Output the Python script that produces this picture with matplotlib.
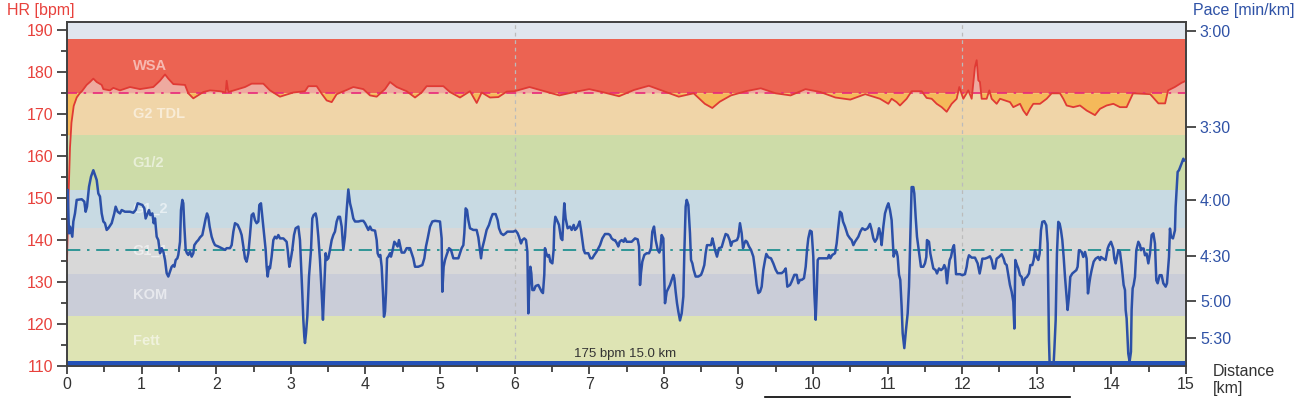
import numpy as np
import matplotlib
matplotlib.use("Agg")
import matplotlib.pyplot as plt
from matplotlib.ticker import MultipleLocator, FixedLocator
from matplotlib.lines import Line2D

plt.rcParams['font.family'] = ['Liberation Sans', 'DejaVu Sans']

# ---- heart-rate zones (bpm) ----
zone_names = ["Fett", "KOM", "G1_1", "G1_2", "G1/2", "G2 TDL", "WSA", ""]
zone_low = [110, 122, 132, 143, 152, 165, 175, 188]
zone_high = [122, 132, 143, 152, 165, 175, 188, 192]
zone_colors = ["#dee4b4", "#cacdd8", "#d8d8d8", "#c8dae3", "#cddca8", "#f0d5a8", "#ec6352", "#e0e6ee"]

threshold_hr = 175
avg_speed = 13.5  # km/h, dash-dot reference line

# ---- heart rate [bpm] over distance [km] ----
hr_km = [0.00, 0.02, 0.04, 0.06, 0.09, 0.13, 0.17, 0.20, 0.263, 0.308, 0.353, 0.398, 0.465, 0.487,
         0.576, 0.621, 0.710, 0.844, 0.978, 1.157, 1.246, 1.314, 1.358, 1.425, 1.582, 1.626, 1.693,
         1.827, 1.917, 2.051, 2.127, 2.140, 2.162, 2.386, 2.475, 2.632, 2.721, 2.855, 3.034, 3.190,
         3.235, 3.347, 3.414, 3.481, 3.548, 3.615, 3.749, 3.838, 3.972, 4.062, 4.151, 4.263, 4.330,
         4.419, 4.553, 4.665, 4.754, 4.821, 5.045, 5.134, 5.268, 5.402, 5.492, 5.559, 5.670, 5.782,
         5.894, 6.0, 6.2, 6.4, 6.6, 6.8, 7.0, 7.2, 7.4, 7.6, 7.8, 8.0, 8.2, 8.4, 8.55, 8.65, 8.75,
         8.9, 9.1, 9.3, 9.5, 9.7, 9.9, 10.1, 10.3, 10.5, 10.7, 10.898, 11.010, 11.054, 11.121, 11.166,
         11.255, 11.322, 11.457, 11.523, 11.591, 11.658, 11.725, 11.792, 11.859, 11.926, 11.961,
         12.015, 12.082, 12.127, 12.171, 12.194, 12.216, 12.238, 12.261, 12.328, 12.364, 12.395,
         12.462, 12.507, 12.641, 12.685, 12.775, 12.819, 12.864, 12.909, 12.953, 13.043, 13.132,
         13.199, 13.311, 13.355, 13.400, 13.489, 13.579, 13.668, 13.780, 13.847, 13.936, 14.026,
         14.115, 14.204, 14.29, 14.52, 14.63, 14.72, 14.76, 14.85, 14.94, 15.0]
hr_bpm = [135, 150, 162, 168, 172, 174, 175, 175.5, 177.0, 177.7, 178.5, 177.7, 177.0, 176.0,
          175.7, 176.3, 175.7, 176.5, 176.0, 176.5, 178.0, 179.5, 178.5, 177.2, 177.0, 175.0, 173.8,
          175.3, 175.7, 175.5, 175.2, 178.0, 175.3, 176.5, 177.3, 177.3, 175.7, 174.2, 175.2, 175.5,
          176.7, 176.7, 174.9, 173.3, 172.9, 174.8, 175.8, 176.5, 176.0, 174.5, 174.2, 176.0, 177.7,
          176.5, 175.5, 174.0, 175.2, 176.7, 176.7, 175.3, 174.0, 175.5, 172.7, 175.2, 174.0, 174.1,
          175.4, 175.5, 176.5, 175.5, 174.5, 175.3, 176.0, 175.2, 174.3, 175.8, 176.8, 175.5, 174.2,
          175.0, 172.5, 171.5, 173.0, 174.5, 175.5, 176.2, 175.0, 174.5, 176.0, 175.3, 174.0, 173.5,
          174.8, 173.7, 172.5, 173.7, 172.9, 172.1, 173.7, 175.5, 175.5, 173.9, 173.7, 172.5, 171.7,
          170.6, 172.5, 173.7, 176.5, 173.7, 175.7, 173.7, 181.3, 182.9, 178.1, 177.7, 173.7, 173.7,
          175.7, 173.7, 172.5, 173.7, 172.9, 171.7, 172.5, 170.9, 169.8, 171.3, 172.5, 172.5, 173.7,
          175.0, 175.0, 173.7, 172.1, 171.7, 172.1, 170.9, 169.8, 171.3, 172.1, 172.5, 171.7, 171.7,
          175.0, 174.8, 172.6, 172.6, 175.7, 176.5, 177.5, 178.0]

# ---- speed [km/h] over distance [km]  (right axis shows it as pace) ----
pace_km = [0.009, 0.027, 0.040, 0.071, 0.085, 0.107, 0.130, 0.197, 0.232, 0.250, 0.268, 0.295, 0.322,
           0.353, 0.375, 0.398, 0.420, 0.442, 0.465, 0.487, 0.509, 0.532, 0.554, 0.599, 0.634, 0.652,
           0.679, 0.710, 0.733, 0.777, 0.844, 0.889, 0.920, 0.947, 1.010, 1.037, 1.054, 1.081, 1.099,
           1.117, 1.144, 1.162, 1.180, 1.202, 1.224, 1.247, 1.269, 1.291, 1.314, 1.336, 1.358, 1.381,
           1.403, 1.425, 1.439, 1.457, 1.479, 1.492, 1.515, 1.528, 1.546, 1.559, 1.573, 1.591, 1.608,
           1.626, 1.649, 1.671, 1.693, 1.707, 1.738, 1.760, 1.783, 1.814, 1.841, 1.859, 1.877, 1.894,
           1.912, 1.939, 1.962, 1.984, 2.028, 2.073, 2.118, 2.140, 2.185, 2.207, 2.230, 2.252, 2.288,
           2.319, 2.341, 2.364, 2.386, 2.408, 2.431, 2.453, 2.475, 2.498, 2.520, 2.542, 2.565, 2.578,
           2.600, 2.618, 2.645, 2.663, 2.676, 2.690, 2.708, 2.721, 2.743, 2.766, 2.788, 2.810, 2.833,
           2.855, 2.900, 2.922, 2.944, 2.958, 2.980, 3.002, 3.020, 3.043, 3.065, 3.101, 3.123, 3.137,
           3.154, 3.168, 3.181, 3.190, 3.204, 3.221, 3.244, 3.271, 3.288, 3.306, 3.333, 3.347, 3.369,
           3.391, 3.414, 3.431, 3.449, 3.467, 3.481, 3.503, 3.525, 3.548, 3.570, 3.592, 3.615, 3.637,
           3.659, 3.682, 3.704, 3.726, 3.749,
           3.771, 3.794, 3.816, 3.838, 3.861, 3.905, 3.941, 3.972, 3.995, 4.017, 4.039, 4.062, 4.084,
           4.129, 4.151, 4.164, 4.182, 4.200, 4.218, 4.236, 4.249, 4.263, 4.276, 4.290, 4.307, 4.330,
           4.343, 4.361, 4.388, 4.406, 4.432, 4.450, 4.468, 4.486, 4.522, 4.553, 4.598, 4.620, 4.642,
           4.665, 4.709, 4.763, 4.790, 4.812, 4.835, 4.866, 4.897, 4.933, 5.000, 5.022, 5.031, 5.049,
           5.067, 5.089, 5.121, 5.147, 5.179, 5.201, 5.246, 5.268, 5.290, 5.313, 5.326, 5.344, 5.362,
           5.380, 5.402, 5.447, 5.491, 5.514, 5.536, 5.550, 5.567, 5.594, 5.625, 5.657, 5.683, 5.706,
           5.746, 5.773, 5.791, 5.818, 5.849, 5.880, 5.902, 5.938, 5.983, 6.014, 6.041, 6.059, 6.086,
           6.103, 6.130, 6.153, 6.171, 6.184, 6.197, 6.211, 6.224, 6.238, 6.260, 6.282, 6.318, 6.340,
           6.363, 6.380, 6.398, 6.407, 6.425, 6.443, 6.461, 6.479, 6.506, 6.523, 6.532, 6.546, 6.568,
           6.595, 6.622, 6.640, 6.653, 6.666, 6.684, 6.711, 6.742, 6.765, 6.792, 6.810, 6.832, 6.854,
           6.872, 6.890, 6.908, 6.926, 6.944, 6.988, 7.015, 7.042, 7.069, 7.100, 7.145, 7.176, 7.212,
           7.256, 7.279, 7.301, 7.328, 7.346, 7.372, 7.390, 7.408, 7.435, 7.462, 7.480, 7.502,
           7.569, 7.614, 7.650, 7.668, 7.681, 7.694, 7.712, 7.739, 7.770, 7.802, 7.829, 7.846, 7.869,
           7.891, 7.918, 7.940, 7.954, 7.971, 7.994, 8.007, 8.016, 8.039, 8.061, 8.083, 8.106, 8.128,
           8.141, 8.159, 8.177, 8.195, 8.217, 8.240, 8.262, 8.275, 8.293, 8.307, 8.329, 8.351, 8.365,
           8.383, 8.400, 8.427, 8.463, 8.499, 8.517, 8.543, 8.561, 8.579, 8.606, 8.633, 8.651, 8.668,
           8.686, 8.713, 8.740, 8.776, 8.803, 8.829, 8.856, 8.883, 8.901, 8.919, 8.954, 8.981, 8.999,
           9.021, 9.044, 9.062, 9.080, 9.097, 9.115, 9.142, 9.169, 9.200, 9.223, 9.245, 9.267, 9.290,
           9.312, 9.334, 9.357, 9.374, 9.401, 9.437, 9.468, 9.500, 9.526, 9.558, 9.580, 9.607, 9.634,
           9.656, 9.692, 9.714, 9.750, 9.781, 9.803, 9.826, 9.848, 9.879, 9.902, 9.920, 9.937, 9.960,
           9.982, 10.004, 10.018, 10.036, 10.049, 10.063, 10.080, 10.116, 10.161, 10.197, 10.214,
           10.232, 10.259, 10.295, 10.317, 10.340, 10.362, 10.384, 10.402, 10.429, 10.465, 10.496,
           10.518, 10.541, 10.563, 10.608, 10.634, 10.661, 10.697, 10.733, 10.764, 10.786, 10.809,
           10.831, 10.858, 10.885, 10.902, 10.920, 10.943, 10.965, 10.992, 11.010, 11.032, 11.054,
           11.068, 11.081, 11.099, 11.121, 11.135, 11.153, 11.170, 11.188, 11.202, 11.224,
           11.246, 11.269, 11.287, 11.304, 11.313, 11.322, 11.345, 11.358, 11.376, 11.394, 11.412,
           11.430, 11.447, 11.479, 11.501, 11.519, 11.528, 11.555, 11.573, 11.590, 11.613, 11.644,
           11.662, 11.689, 11.716, 11.742, 11.760, 11.778, 11.796, 11.814, 11.832, 11.850, 11.872,
           11.890, 11.903, 11.917, 11.970, 12.002, 12.037, 12.060, 12.073, 12.091, 12.127, 12.171,
           12.207, 12.234, 12.252, 12.270, 12.305, 12.341, 12.372, 12.395, 12.417, 12.439, 12.462,
           12.493, 12.529, 12.556, 12.573, 12.596, 12.618, 12.640, 12.663, 12.685, 12.699, 12.712,
           12.734, 12.752, 12.774, 12.797, 12.819, 12.841, 12.868, 12.895, 12.913, 12.940, 12.958,
           12.976, 12.998, 13.020, 13.038, 13.056, 13.074, 13.101, 13.127, 13.145, 13.154, 13.163,
           13.172, 13.226, 13.235, 13.253, 13.270, 13.288, 13.306, 13.324, 13.342, 13.360, 13.378,
           13.395, 13.413, 13.431, 13.449, 13.476, 13.503, 13.530, 13.547, 13.565, 13.601, 13.623,
           13.646, 13.668, 13.686, 13.704, 13.717, 13.735, 13.762, 13.789, 13.824, 13.847, 13.860,
           13.891, 13.923, 13.950, 13.967, 13.994, 14.025, 14.039, 14.057, 14.075, 14.093, 14.115,
           14.137, 14.164, 14.182, 14.191, 14.204, 14.226, 14.244, 14.262, 14.271, 14.285, 14.298,
           14.316, 14.334, 14.361, 14.383, 14.396, 14.414, 14.432, 14.450, 14.472, 14.495, 14.517,
           14.539, 14.562, 14.584, 14.602, 14.620, 14.647, 14.673, 14.696, 14.727, 14.745, 14.772,
           14.785, 14.799, 14.825, 14.852, 14.861, 14.874, 14.888, 14.906, 14.924, 14.941, 14.964,
           14.977]
speed_kmh = [15.28, 14.00, 14.20, 13.90, 14.35, 14.59, 14.99, 15.01, 14.94, 14.64, 14.79, 15.38, 15.68,
             15.87, 15.73, 15.58, 15.18, 15.09, 14.59, 14.35, 14.30, 14.10, 14.15, 14.30, 14.59, 14.79,
             14.64, 14.59, 14.69, 14.64, 14.64, 14.61, 14.69, 14.89, 14.84, 14.74, 14.44, 14.59, 14.69,
             14.54, 14.59, 14.30, 14.44, 13.90, 13.80, 13.41, 13.56, 13.46, 13.21, 12.82, 12.72, 12.87,
             13.01, 13.06, 13.01, 13.21, 13.26, 13.36, 13.75, 14.69, 14.99, 14.89, 14.20, 13.51, 13.41,
             13.36, 13.46, 13.31, 13.41, 13.65, 13.75, 13.80, 13.88, 13.95, 14.25, 14.44, 14.59, 14.49,
             14.20, 13.90, 13.75, 13.65, 13.61, 13.56, 13.51, 13.56, 13.56, 13.65, 14.05, 14.30, 14.25,
             14.10, 13.95, 13.61, 13.26, 13.16, 13.41, 13.95, 14.54, 14.59, 14.39, 14.30, 14.35, 14.84,
             14.89, 14.49, 13.90, 13.51, 13.01, 12.72, 13.01, 12.96, 13.31, 13.80, 13.90, 13.85, 13.95,
             13.85, 13.85, 13.80, 13.75, 13.51, 13.01, 13.26, 13.51, 13.95, 14.15, 14.20, 13.80, 13.11,
             12.23, 11.44, 10.94, 10.75, 11.04, 11.53, 12.72, 13.51, 14.44, 14.54, 14.59, 14.44, 13.90,
             13.21, 12.23, 11.44, 12.42, 13.41, 13.21, 13.26, 13.51, 13.80, 13.95, 14.05, 14.35, 14.49,
             14.49, 14.20, 13.51, 13.90, 14.69,
             15.30, 14.89, 14.69, 14.44, 14.35, 14.35, 14.37, 14.37, 14.30, 14.20, 14.10, 14.20, 14.10,
             14.08, 13.80, 13.41, 13.31, 13.36, 13.01, 12.23, 11.53, 11.68, 12.23, 13.26, 13.31, 13.41,
             13.31, 13.46, 13.75, 13.70, 13.61, 13.80, 13.61, 13.43, 13.43, 13.56, 13.56, 13.41, 13.26,
             13.01, 13.01, 13.06, 13.26, 13.61, 13.85, 14.20, 14.35, 14.37, 14.35, 13.85, 12.27, 13.01,
             13.21, 13.36, 13.56, 13.51, 13.26, 13.26, 13.26, 13.41, 13.56, 13.65, 14.00, 14.74, 14.69,
             14.39, 14.15, 14.10, 14.10, 13.88, 13.51, 13.26, 13.56, 13.80, 14.10, 14.25, 14.44, 14.57,
             14.57, 14.39, 14.15, 14.00, 13.95, 14.00, 14.05, 14.05, 14.05, 14.08, 14.00, 13.90, 13.70,
             13.80, 13.85, 13.80, 13.46, 11.63, 12.42, 13.01, 12.82, 12.32, 12.32, 12.44, 12.47, 12.37,
             12.27, 12.23, 12.77, 13.56, 13.41, 13.31, 13.36, 13.16, 13.11, 13.51, 14.20, 14.49, 14.39,
             14.25, 13.85, 13.80, 14.39, 14.89, 14.44, 14.15, 14.20, 14.10, 14.25, 14.10, 14.15, 14.25,
             14.35, 14.10, 13.80, 13.51, 13.41, 13.41, 13.26, 13.26, 13.36, 13.46, 13.65, 13.85, 13.98,
             13.98, 13.95, 13.85, 13.80, 13.80, 13.70, 13.61, 13.75, 13.80, 13.75, 13.85, 13.75,
             13.75, 13.85, 13.82, 13.61, 12.47, 12.82, 13.16, 13.36, 13.41, 13.41, 13.56, 14.05, 14.20,
             13.80, 13.51, 13.43, 13.56, 13.95, 13.85, 12.62, 11.93, 12.27, 12.37, 12.47, 12.62, 12.77,
             12.67, 12.27, 11.93, 11.68, 11.42, 11.63, 12.13, 13.41, 14.79, 14.99, 14.84, 14.00, 13.21,
             13.11, 12.92, 12.72, 12.72, 12.77, 12.87, 13.06, 13.41, 13.65, 13.65, 13.65, 13.85, 13.70,
             13.51, 13.31, 13.56, 13.59, 13.80, 13.98, 13.95, 13.80, 13.63, 13.75, 13.78, 13.80, 13.90,
             14.30, 14.00, 13.56, 13.70, 13.78, 13.75, 13.61, 13.51, 13.31, 12.92, 12.47, 12.23, 12.27,
             12.42, 12.92, 13.21, 13.39, 13.29, 13.26, 13.11, 12.92, 12.82, 12.82, 12.82, 12.87, 12.96,
             12.42, 12.47, 12.57, 12.77, 12.77, 12.52, 12.62, 12.62, 12.67, 13.01, 13.51, 13.85, 14.08,
             14.05, 13.31, 12.23, 11.44, 12.18, 13.21, 13.26, 13.26, 13.26, 13.26, 13.36,
             13.26, 13.36, 13.41, 13.70, 14.20, 14.64, 14.59, 14.35, 14.20, 13.95, 13.85,
             13.80, 13.65, 13.75, 13.90, 14.05, 14.15, 14.10, 14.15, 14.28, 14.10, 13.85,
             13.75, 13.85, 14.15, 14.00, 13.65, 14.20, 14.59, 14.79, 14.89, 14.69, 14.39,
             13.80, 13.31, 13.46, 13.46, 13.31, 12.77, 12.62, 11.83, 11.04, 10.60,
             11.13, 11.63, 12.42, 13.80, 14.49, 15.37, 15.37, 15.18, 14.49, 13.90, 13.60,
             13.30, 13.01, 13.01, 13.11, 13.30, 13.80, 13.75, 13.40, 13.21, 12.96, 12.91,
             12.81, 12.96, 12.91, 12.96, 13.06, 12.96, 12.52, 12.91, 13.21, 13.30, 13.55,
             13.65, 13.30, 12.79, 12.79, 12.76, 12.79, 13.01, 13.21, 13.35, 13.28, 13.28,
             13.11, 12.81, 13.01, 13.25, 13.25, 13.28, 13.32, 13.21, 12.96, 12.96, 13.25,
             13.30, 13.38, 13.25, 13.11, 13.06, 12.76, 12.47, 12.27, 11.97, 11.18, 13.21,
             13.06, 12.96, 12.76, 12.71, 12.47, 12.66, 12.71, 12.81, 13.06, 13.06, 13.21,
             13.50, 13.30, 13.21, 13.40, 14.09, 14.34, 14.36, 14.24, 13.70, 12.22, 10.84,
             10.15, 10.15, 10.54, 11.43, 13.40, 14.34, 14.29, 14.09, 13.80, 13.30, 12.71,
             12.22, 11.73, 12.12, 12.71, 12.81, 12.86, 12.91, 13.01, 13.50, 13.45, 13.30,
             13.45, 13.25, 12.22, 12.52, 12.71, 12.91, 13.16, 13.25, 13.30, 13.21, 13.30,
             13.25, 13.21, 13.55, 13.65, 13.75, 13.55, 13.25, 13.11, 13.30, 13.50, 13.45,
             13.06, 12.47, 12.32, 11.73, 11.48, 10.44, 10.20, 10.49, 11.73, 12.37, 12.47,
             12.71, 13.50, 13.75, 13.65, 13.50, 13.55, 13.55, 13.35, 13.40, 13.11, 13.40,
             13.95, 14.00, 13.70, 12.61, 12.52, 12.76, 12.76, 12.52, 12.42, 12.52, 13.30,
             14.14, 13.90, 13.85, 14.09, 14.78, 15.28, 15.82, 15.87, 15.97, 16.07, 16.21,
             16.16]

pace_ticks = [3.0, 3.5, 4.0, 4.5, 5.0, 5.5]  # min/km
pace_labels = ["3:00", "3:30", "4:00", "4:30", "5:00", "5:30"]

# colours
red_txt = "#e8413c"
blue_txt = "#2f52a6"
grey_txt = "#333333"

fig = plt.figure(figsize=(12.96, 3.98), dpi=100)
ax = fig.add_axes([67 / 1296, 1 - 366 / 398, 1119 / 1296, 344 / 398])

# zone bands
for lo, hi, c, name in zip(zone_low, zone_high, zone_colors, zone_names):
    ax.axhspan(lo, hi, color=c, lw=0, zorder=0)
    if name:
        ax.text(0.88, (lo + hi) / 2, name, color="white", alpha=0.55, fontsize=10.5,
                fontweight="bold", va="center", ha="left", zorder=1)

hr_km = np.array(hr_km)
hr_bpm = np.array(hr_bpm)
ax.fill_between(hr_km, threshold_hr, hr_bpm, where=hr_bpm >= threshold_hr, interpolate=True,
                color="#eeaaa0", lw=0, zorder=2)
ax.fill_between(hr_km, np.maximum(hr_bpm, 165), threshold_hr, where=hr_bpm <= threshold_hr,
                interpolate=True, color="#f5b95a", lw=0, zorder=2)
ax.axhline(threshold_hr, color="#e8287a", lw=1.2, ls=(0, (6, 4, 1.5, 4)), zorder=3)
ax.plot(hr_km, hr_bpm, color="#e03a34", lw=1.3, zorder=4)

# bottom bar + markers
ax.axhspan(110, 111.1, color="#2452b8", lw=0, zorder=5)
for xv in [6, 12]:
    ax.axvline(xv, color="#bbbbbb", lw=0.9, ls=(0, (3, 3)), zorder=1)
ax.text(7.48, 112.9, "175 bpm 15.0 km", color=grey_txt, fontsize=9.5, ha="center", va="center",
        zorder=6)

ax.set_xlim(0, 15)
ax.set_ylim(110, 192)
ax.set_yticks(range(110, 191, 10))
ax.yaxis.set_minor_locator(MultipleLocator(5))
ax.set_xticks(range(0, 16))
ax.xaxis.set_minor_locator(MultipleLocator(0.5))
ax.tick_params(axis="y", which="major", length=7, width=1.3, color="#404040", labelcolor=red_txt,
               labelsize=11.5, pad=3)
ax.tick_params(axis="y", which="minor", length=4.5, width=1.3, color="#404040")
ax.tick_params(axis="x", which="major", length=6, width=1.3, color="#404040", labelcolor=grey_txt,
               labelsize=11.5, pad=2)
ax.tick_params(axis="x", which="minor", length=4, width=1.3, color="#404040")

# pace axis (linear in speed)
ax2 = ax.twinx()
ax2.set_ylim(10.07, 20.26)
ax2.plot(pace_km, speed_kmh, color="#2c50a8", lw=1.8, zorder=3)
ax2.axhline(avg_speed, color="#138a8a", lw=1.2, ls=(0, (8, 4, 1.5, 4)), zorder=2)
ax2.yaxis.set_major_locator(FixedLocator([60 / p for p in pace_ticks]))
ax2.set_yticklabels(pace_labels)
ax2.tick_params(axis="y", length=7, width=1.3, color="#404040", labelcolor=blue_txt,
                labelsize=11.5, pad=3)

for a in (ax, ax2):
    for s in a.spines.values():
        s.set_color("#404040")
        s.set_linewidth(1.2)

fig.text(7 / 1296, 1 - 3 / 398, "HR [bpm]", color=red_txt, fontsize=11.5, ha="left", va="top")
fig.text(1193 / 1296, 1 - 3 / 398, "Pace [min/km]", color=blue_txt, fontsize=11.5, ha="left",
         va="top")
fig.text(1213 / 1296, 1 - 364 / 398, "Distance\n[km]", color=grey_txt, fontsize=11.5, ha="left",
         va="top", linespacing=1.15)
fig.add_artist(Line2D([765 / 1296, 1070 / 1296], [1 - 396.5 / 398] * 2, color="black", lw=1.2))

fig.savefig("out.png", dpi=100)
